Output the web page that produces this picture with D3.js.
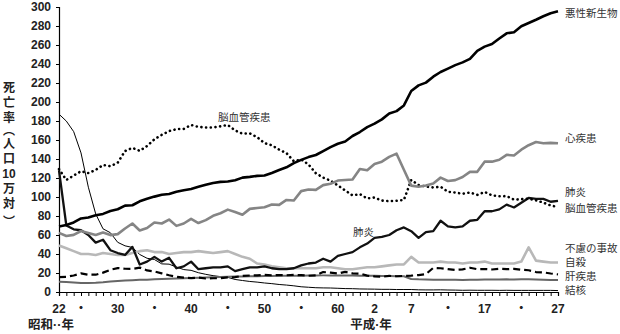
<!DOCTYPE html>
<html lang="ja"><head><meta charset="utf-8">
<script src="https://cdn.jsdelivr.net/npm/d3@7"></script>
<style>
html,body{margin:0;padding:0;background:#fff;}
svg{display:block;}
</style></head>
<body>
<svg id="chart" width="620" height="334"></svg>
<script>
// ---------- DATA ----------
const years = d3.range(1947, 2016); // 昭和22年 .. 平成27年

const cancer = [69.0,70.6,73.2,77.4,78.5,80.8,82.2,85.3,87.1,90.9,
 91.3,95.5,98.2,100.4,102.3,103.2,105.5,107.2,108.4,110.8,
 113.0,114.8,115.9,116.3,117.7,120.4,121.2,122.2,122.6,125.3,
 128.4,131.3,135.7,139.1,142.0,144.2,148.3,152.5,156.1,158.5,
 164.2,168.4,173.6,177.2,181.7,187.8,190.4,196.4,211.6,217.5,
 220.4,226.7,231.6,235.2,238.8,241.7,245.4,253.9,258.3,261.0,
 266.9,272.3,273.5,279.7,283.2,286.6,290.3,293.5,295.5];

const heart = [62.2,58.9,60.1,64.2,62.2,60.0,62.6,59.9,60.9,66.8,
 72.1,64.8,67.4,73.2,72.1,76.2,69.6,72.1,77.0,72.6,
 75.7,80.2,82.9,86.7,84.2,81.3,87.5,88.4,89.2,92.1,
 91.7,96.9,96.3,106.2,107.9,107.5,112.5,113.9,117.3,117.9,
 118.4,129.4,128.1,134.8,137.2,142.2,145.6,128.6,112.0,110.8,
 112.2,114.3,120.4,116.8,117.8,121.0,126.5,126.5,137.2,137.2,
 139.2,144.4,143.7,149.8,154.5,157.9,156.5,157.0,156.5];

const stroke = [129.4,117.9,122.6,127.1,125.2,128.5,133.7,132.4,136.1,148.4,
 151.7,148.6,153.7,160.7,165.4,169.4,171.4,171.7,175.8,173.8,
 173.1,173.2,174.4,175.8,170.0,166.7,166.9,163.0,156.7,154.5,
 149.8,146.2,137.7,139.5,134.3,125.0,120.4,117.2,112.2,106.9,
 101.7,103.0,98.5,99.4,96.2,95.6,96.0,96.9,117.9,112.6,
 111.0,110.0,110.8,105.5,104.7,103.4,104.7,102.3,105.3,101.7,
 100.8,100.9,97.2,97.7,98.2,96.5,94.1,91.1,89.4];

const pneumonia = [128,70,66,65,60,52,55,44,41,39,
 47.5,29,32,37,32,36,25,27,32,24,
 25,26,26,27,22,24,26,26,27,25,
 24,24,25,28,30,31,35,32,38,40,
 42,47,51,57,58,60,65,68,64,57,
 63,64,75,69,68,69,75,76,85,85,
 87,92,89,94,99,98,98,95,96];

const accident = [49,46,43,40,40,39,41,40,39,39,
 41,43,44,42,42,40,41,42,42,43,
 42,41,42,43,40,37,35,30,29,27,
 26,25,25,25,25,25,26,26,25,24,
 24,25,26,26,27,28,29,29,37,31,
 31,31,32,31,31,30,31,31,32,30,
 30,30,30,32,47,33,32,31,31];

const suicide = [15.7,15.9,17.4,19.6,18.2,18.2,20.4,23.4,25.2,24.5,
 24.3,25.7,22.7,21.6,19.6,17.6,16.1,15.1,14.7,15.2,
 14.2,14.5,14.5,15.3,15.6,17.0,17.4,17.5,18.0,17.6,
 17.9,17.6,18.0,17.7,17.1,17.5,21.0,20.4,19.4,21.2,
 19.6,19.4,17.3,16.4,16.1,16.9,16.6,16.9,17.2,17.8,
 18.8,25.4,25.0,24.1,23.3,23.8,25.5,24.0,24.2,23.7,
 24.4,24.0,24.4,23.4,22.9,21.0,20.7,19.5,18.5];

const liver = [10.8,10.5,10.0,9.6,9.5,9.8,10.3,11.0,11.6,12.0,
 12.4,12.8,13.0,13.3,13.6,13.9,14.2,14.4,14.7,15.0,
 15.2,15.5,15.7,16.0,16.2,16.4,16.5,16.6,16.8,16.9,
 17.0,17.0,17.1,17.2,17.3,17.4,17.5,17.5,17.4,17.3,
 17.3,17.2,17.1,17.0,16.9,16.8,16.7,16.6,13.7,13.3,
 13.1,13.0,12.9,12.9,12.8,12.7,12.8,12.9,13.1,13.2,
 13.2,13.3,13.2,13.3,13.3,13.2,12.9,12.7,12.6];

const tb = [187.2,179.9,168.8,146.4,110.3,82.2,66.5,62.4,52.3,48.6,
 46.9,39.5,35.5,34.2,29.6,29.3,26.3,23.6,22.8,20.3,
 18.6,17.2,16.2,15.4,13.2,12.1,11.1,10.4,9.5,8.8,
 7.9,7.3,6.5,5.5,5.0,4.5,4.3,4.2,3.9,3.6,
 3.5,3.2,3.1,3.0,2.8,2.8,2.6,2.6,2.6,2.3,
 2.2,2.2,2.3,2.1,2.0,1.8,1.9,1.8,1.8,1.8,
 1.7,1.8,1.7,1.7,1.7,1.7,1.7,1.7,1.5];

const xTickYears  = [1947,1950,1955,1960,1965,1970,1975,1980,1985,1990,1995,2000,2005,2010,2015];
const xTickLabels = ["22","・","30","・","40","・","50","・","60","2","7","・","17","・","27"];
const yTicks = [0,20,40,60,80,100,120,140,160,180,200,220,240,260,280,300];

const seriesNames = ["結核","肝疾患","自殺","不慮の事故","肺炎","脳血管疾患","心疾患","悪性新生物"];
const seriesData  = [tb, liver, suicide, accident, pneumonia, stroke, heart, cancer];
const endLabelY   = {"悪性新生物":13,"心疾患":138,"肺炎":192,"脳血管疾患":208,"不慮の事故":248,"自殺":262,"肝疾患":276,"結核":290};
const yTitleParts = ["死","亡","率","︵","人","口","10","万","対","︶"];

// ---------- STYLES ----------
const style = {
  "悪性新生物": {stroke:"#000", w:2.6},
  "心疾患":     {stroke:"#858585", w:2.6},
  "脳血管疾患": {stroke:"#000", w:2.6, dash:"0.1,4.6", cap:"round"},
  "肺炎":       {stroke:"#111", w:2.3},
  "不慮の事故": {stroke:"#b8b8b8", w:2.6},
  "自殺":       {stroke:"#000", w:2.2, dash:"7,4"},
  "肝疾患":     {stroke:"#666", w:2.0},
  "結核":       {stroke:"#000", w:1.0}
};

// ---------- CHART ----------
const svg = d3.select("#chart");
const x = d3.scaleLinear().domain([1947, 2015]).range([59, 558]);
const y = d3.scaleLinear().domain([0, 300]).range([292, 7]);
const jpFont = "'Liberation Sans','Noto Sans CJK JP',sans-serif";
const numFont = "'Liberation Sans',Arial,sans-serif";

// y axis
const yAxis = svg.append("g").attr("transform","translate(59,0)")
  .call(d3.axisLeft(y).tickValues(yTicks).tickSize(3).tickPadding(5));
yAxis.select(".domain").attr("stroke","#000").attr("stroke-width",1.2);
yAxis.selectAll(".tick line").attr("stroke","#000");
yAxis.selectAll(".tick text").attr("font-family",numFont).attr("font-size",12)
  .attr("font-weight","bold").attr("fill","#222");

// x axis with yearly minor ticks
const xAxis = svg.append("g").attr("transform","translate(0,292)")
  .call(d3.axisBottom(x).tickValues(years).tickSize(4).tickFormat(""));
xAxis.select(".domain").attr("stroke","#000").attr("stroke-width",1.2);
xAxis.selectAll(".tick line").attr("stroke","#000");

svg.append("g").selectAll("text").data(xTickYears).join("text")
  .attr("x", d => x(d)).attr("y", 309)
  .attr("text-anchor","middle").attr("dominant-baseline","central")
  .attr("font-family", (d,i) => xTickLabels[i] === "・" ? jpFont : numFont)
  .attr("font-size",12).attr("font-weight","bold").attr("fill","#222")
  .text((d,i) => xTickLabels[i]);

svg.append("text").attr("x",51).attr("y",325).attr("text-anchor","middle")
  .attr("dominant-baseline","central").attr("font-family",jpFont)
  .attr("font-size",12.5).attr("font-weight","bold").attr("fill","#222").text("昭和··年");
svg.append("text").attr("x",371).attr("y",325).attr("text-anchor","middle")
  .attr("dominant-baseline","central").attr("font-family",jpFont)
  .attr("font-size",12.5).attr("font-weight","bold").attr("fill","#222").text("平成·年");

// y title (stacked vertically)
const titleY = [88,103,118,131,144,159,174,189,204,222];
svg.append("g").selectAll("text").data(yTitleParts).join("text")
  .attr("x",9).attr("y",(d,i)=>titleY[i])
  .attr("text-anchor","middle").attr("dominant-baseline","central")
  .attr("font-family",jpFont).attr("font-size",12).attr("font-weight","bold")
  .attr("fill","#222").text(d=>d);

// lines
const line = d3.line().x((d,i)=>x(years[i])).y(d=>y(d));
seriesNames.forEach((name, k) => {
  const s = style[name];
  svg.append("path").datum(seriesData[k])
    .attr("d", line).attr("fill","none")
    .attr("stroke", s.stroke).attr("stroke-width", s.w)
    .attr("stroke-dasharray", s.dash || null)
    .attr("stroke-linecap", s.cap || "butt")
    .attr("stroke-linejoin","round");
});

// end labels
svg.append("g").selectAll("text").data(seriesNames).join("text")
  .attr("x",565).attr("y",d=>endLabelY[d])
  .attr("dominant-baseline","central").attr("font-family",jpFont)
  .attr("font-size",10.5).attr("fill","#333").text(d=>d);

// inline labels
svg.append("text").attr("x",218).attr("y",117).attr("dominant-baseline","central")
  .attr("font-family",jpFont).attr("font-size",10.5).attr("fill","#333").text("脳血管疾患");
svg.append("text").attr("x",353).attr("y",232).attr("dominant-baseline","central")
  .attr("font-family",jpFont).attr("font-size",10.5).attr("fill","#333").text("肺炎");
</script>
</body></html>
